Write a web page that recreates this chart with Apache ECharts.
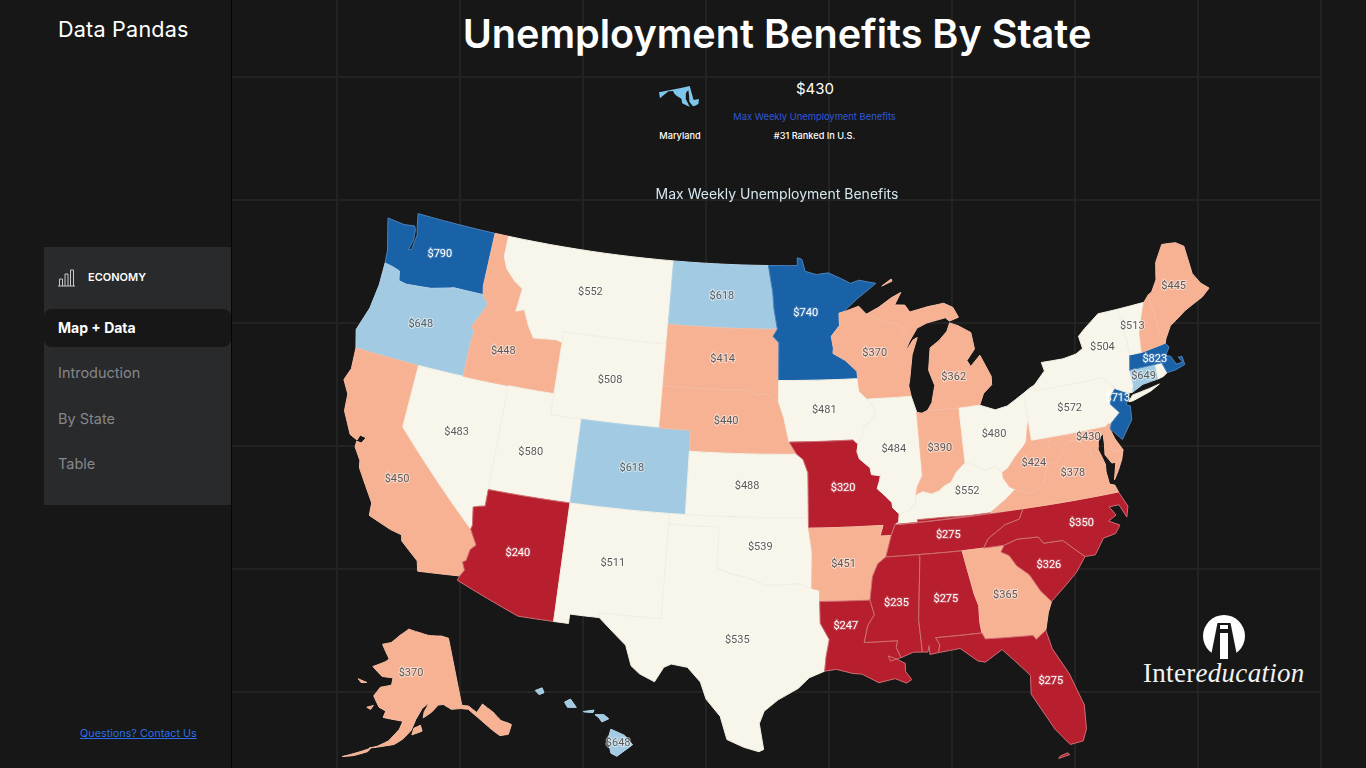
<!DOCTYPE html>
<html>
<head>
<meta charset="utf-8">
<title>Unemployment Benefits By State</title>
<script src="https://cdn.jsdelivr.net/npm/echarts@6/dist/echarts.min.js"></script>
<style>
  html, body { margin: 0; padding: 0; width: 1366px; height: 768px; overflow: hidden; background: #171717; font-family: Inter, "Open Sans", sans-serif; color: #fff; }
  .abs { position: absolute; white-space: nowrap; }
  #grid { position: absolute; left: 232px; top: 0; width: 1090px; height: 768px;
    background-image: linear-gradient(#232323 2px, transparent 2px), linear-gradient(90deg, #232323 2px, transparent 2px);
    background-size: 123px 123px; background-position: 0 76px, 104px 0; }
  #divider { position: absolute; left: 231px; top: 0; width: 1px; height: 768px; background: #050505; }
  #panel { position: absolute; left: 44px; top: 247px; width: 187px; height: 258px; background: #292a2c; }
  #pill { position: absolute; left: 44px; top: 309px; width: 187px; height: 38px; background: #171717; border-radius: 8px; }
  #chart { position: absolute; left: 0; top: 0; width: 1366px; height: 768px; }
  .nav { left: 58px; font-size: 14.5px; color: #85878a; line-height: 18px; }
  .center { transform: translateX(-50%); }
</style>
</head>
<body>
<div id="grid"></div>
<div id="divider"></div>
<div id="panel"></div>
<div id="pill"></div>
<div class="abs" style="left:58px;top:16px;font-size:21.6px;line-height:26px;letter-spacing:.2px">Data Pandas</div>
<svg class="abs" style="left:57px;top:268px" width="19" height="19" viewBox="0 0 19 19" fill="none" stroke="#c9c9c9" stroke-width="1">
  <path d="M1 18H18M2.5 18V11H5.5V18M8 18V6H11V18M13.5 18V2H16.5V18"/>
</svg>
<div class="abs" style="left:88px;top:270px;font-size:11px;line-height:14px;font-weight:600">ECONOMY</div>
<div class="abs" style="left:58px;top:319px;font-size:14px;line-height:18px;font-weight:700">Map + Data</div>
<div class="abs nav" style="top:364px">Introduction</div>
<div class="abs nav" style="top:410px">By State</div>
<div class="abs nav" style="top:455px">Table</div>
<a class="abs" href="#" style="left:80px;top:727px;font-size:10.8px;line-height:14px;color:#2b6fe8">Questions? Contact Us</a>

<div class="abs center" style="left:777px;top:9px;font-size:39.6px;line-height:50px;font-weight:600">Unemployment Benefits By State</div>
<div class="abs center" id="infoValue" style="left:815px;top:79px;font-size:15px;line-height:19px"></div>
<div class="abs center" id="infoMetric" style="left:814.5px;top:110.5px;font-size:9.4px;line-height:12px;color:#2f57d8"></div>
<div class="abs center" id="infoRank" style="left:814.5px;top:129.5px;font-size:9.2px;line-height:12px;font-weight:500"></div>
<div class="abs center" id="infoState" style="left:680px;top:129.5px;font-size:9.2px;line-height:12px;font-weight:500"></div>

<svg class="abs" style="left:1202px;top:614px" width="44" height="46" viewBox="-22 -22 44 46">
  <circle r="21" fill="#fff"/>
  <path d="M-6.5 -13L6.5 -13L13.5 22L-13.5 22Z" fill="#171717"/>
  <path d="M-4 -11H4V-7H-4ZM-4 -3H4V23H-4Z" fill="#fff"/>
</svg>
<div class="abs" style="left:1143px;top:657px;font-family:'Liberation Serif',serif;font-size:27px;line-height:32px;color:#f2f2f2;letter-spacing:.3px">Inter<i>education</i></div>

<div id="chart"></div>

<script>
// values; the three with no printed label are estimates
const stateNames = ["Washington","Oregon","California","Nevada","Idaho","Montana","Wyoming","Utah","Arizona","Colorado","New Mexico","North Dakota","South Dakota","Nebraska","Kansas","Oklahoma","Texas","Minnesota","Iowa","Missouri","Arkansas","Louisiana","Wisconsin","Illinois","Michigan","Indiana","Ohio","Kentucky","Tennessee","Mississippi","Alabama","Georgia","Florida","South Carolina","North Carolina","Virginia","West Virginia","Maryland","Delaware","Pennsylvania","New Jersey","New York","Connecticut","Rhode Island","Massachusetts","Vermont","New Hampshire","Maine","Alaska","Hawaii"];
const stateValues = [790,648,450,483,448,552,508,580,240,618,511,618,414,440,488,539,535,740,481,320,451,247,370,484,362,390,480,552,275,235,275,365,275,326,350,378,424,430,400,572,713,504,649,586,823,513,427,445,370,648];
const unlabelled = ["Delaware","Rhode Island","New Hampshire"];
const binMax = [350, 460, 600, 700];
const binColors = ["#b71f2e", "#f7b294", "#f8f6ea", "#a2cbe3", "#1a62a8"];
const binBorders = ["#cf6f73", "#f8bda2", "#f3f1e5", "#b3d4e8", "#4a83bb"];
const chartTitle = "Max Weekly Unemployment Benefits";
const selectedState = "Maryland";
const selectedRank = 31;

// shared borders, lon,lat
const borders = {
  wa_or: "-124.0,46.27 -123.4,46.2 -122.9,46.1 -122.75,45.65 -122.2,45.58 -121.2,45.65 -120.5,45.7 -119.3,45.93 -118.98,46.0 -116.92,46.0",
  or_id: "-116.92,46.0 -116.46,45.6 -116.85,44.95 -117.22,44.38 -116.95,44.2 -117.03,43.8 -117.03,42.0",
  id_mt: "-116.05,49.0 -116.05,48.0 -115.7,47.45 -114.95,46.93 -114.35,46.65 -114.5,45.55 -113.95,45.7 -113.45,44.95 -113.0,44.45 -111.5,44.55 -111.05,44.48",
  ca_nv: "-120.0,42.0 -120.0,39.0 -114.63,35.0",
  ca_az: "-114.63,35.0 -114.14,34.3 -114.43,34.05 -114.53,33.5 -114.72,33.4 -114.52,33.03 -114.72,32.72",
  mn_wi: "-92.01,46.71 -92.29,46.66 -92.29,46.07 -92.88,45.57 -92.76,45.0 -92.8,44.75 -92.0,44.4 -91.25,43.85 -91.22,43.5",
  miss_wi: "-91.22,43.5 -91.15,42.9 -90.64,42.51",
  miss_il: "-90.64,42.51 -90.15,41.9 -90.34,41.55 -91.05,41.2 -91.1,40.75 -91.42,40.38",
  miss_mo: "-91.42,40.38 -91.5,40.05 -91.37,39.7 -90.73,39.25 -90.67,38.93 -90.12,38.85 -90.2,38.6 -90.37,38.25 -89.9,37.88 -89.52,37.55 -89.5,37.3 -89.13,36.98",
  mo_ky: "-89.13,36.98 -89.2,36.6 -89.42,36.5",
  mo_tn: "-89.42,36.5 -89.7,36.0",
  tn_ar: "-89.7,36.0 -90.1,35.0",
  ar_ms: "-90.1,35.0 -90.6,34.7 -90.95,34.1 -91.16,33.0",
  la_ms: "-91.16,33.0 -90.95,32.3 -91.35,31.8 -91.6,31.0 -89.73,31.0 -89.83,30.67 -89.6,30.18",
  il_ky: "-89.13,36.98 -88.5,37.1 -88.07,37.5 -88.03,37.8",
  wabash: "-88.03,37.8 -87.9,38.2 -87.53,38.7 -87.53,39.35 -87.53,41.71",
  in_ky: "-88.03,37.8 -87.6,37.95 -87.1,37.8 -86.6,37.9 -86.3,38.1 -85.8,38.27 -85.43,38.7 -84.82,39.1",
  oh_ky: "-84.82,39.1 -84.3,38.95 -83.65,38.63 -83.0,38.73 -82.6,38.42",
  oh_wv: "-82.6,38.42 -82.2,38.6 -81.75,39.0 -81.0,39.55 -80.85,39.72 -80.63,40.4 -80.52,40.64",
  ky_wv: "-82.6,38.42 -82.6,38.15 -82.3,37.7 -81.97,37.54",
  ky_va: "-81.97,37.54 -82.7,37.1 -83.68,36.6",
  ky_tn: "-83.68,36.6 -85.0,36.6 -86.5,36.65 -88.07,36.65 -88.07,36.5 -89.42,36.5",
  va_wv: "-81.97,37.54 -81.2,37.25 -80.3,37.5 -79.65,38.58 -79.3,38.42 -78.87,38.77 -78.35,39.4 -77.72,39.32",
  md_wv: "-77.72,39.32 -77.83,39.6 -78.35,39.65 -78.9,39.45 -79.48,39.2 -79.48,39.72",
  nc_sc: "-83.11,35.0 -82.3,35.2 -81.05,35.15 -80.8,34.82 -79.67,34.8 -78.55,33.86",
  ga_sc: "-83.11,35.0 -83.35,34.7 -82.9,34.48 -82.55,33.95 -81.9,33.45 -81.4,32.6 -80.88,32.03",
  tn_nc: "-84.32,34.99 -84.0,35.4 -82.9,35.95 -82.0,36.12 -81.68,36.59",
  ga_al: "-85.6,34.98 -85.18,32.87 -85.0,32.3 -85.05,31.55 -85.0,31.0",
  tx_ok: "-100.0,36.5 -100.0,34.56 -99.2,34.3 -98.1,34.13 -97.2,33.8 -96.5,33.8 -95.3,33.87 -94.48,33.64",
  tx_la: "-94.04,33.02 -94.04,31.99 -93.55,31.2 -93.75,30.4 -93.85,29.7",
  ne_ia: "-96.45,42.49 -96.1,41.7 -95.9,41.0 -95.77,40.58 -95.3,40.0",
  sd_ne: "-104.05,43.0 -98.5,43.0 -97.9,42.8 -97.2,42.85 -96.45,42.49",
  nd_mn: "-97.23,49.0 -96.9,47.7 -96.8,46.9 -96.56,45.94",
  sd_mn: "-96.56,45.94 -96.85,45.6 -96.45,45.3 -96.45,43.5",
  mi_wi: "-90.4,46.55 -89.1,46.13 -88.1,45.9 -87.8,45.35 -87.6,45.1",
  pa_nj: "-74.7,41.36 -75.13,40.98 -75.2,40.68 -74.75,40.2 -75.4,39.8"
};

// state outlines, "@name" pulls in a shared border and "@-name" the same border backwards
const stateRings = {
  "Washington": ["@wa_or -117.04,46.42 -117.04,49.0 -122.76,49.0 -122.55,48.35 -122.4,48.0 -122.45,47.7 -122.5,47.25 -122.7,47.2 -122.55,47.7 -122.62,48.2 -122.75,48.38 -123.5,48.3 -124.73,48.38 -124.4,47.6 -124.1,46.9"],
  "Oregon": ["-124.21,42.0 -124.55,42.84 -124.1,44.0 -123.95,45.2 @wa_or @or_id -120.0,42.0"],
  "California": ["@ca_nv @ca_az -117.12,32.53 -117.28,33.0 -118.4,33.75 -118.5,34.03 -119.2,34.15 -120.6,34.55 -120.65,35.15 -121.9,36.6 -122.0,36.95 -122.5,37.5 -122.5,37.78 -122.2,37.75 -122.0,38.05 -122.4,38.1 -122.5,37.83 -123.0,38.0 -123.75,39.0 -123.85,39.8 -124.35,40.4 -124.1,41.0 -124.21,42.0"],
  "Nevada": ["-120.0,42.0 -117.03,42.0 -114.04,42.0 -114.05,37.0 -114.05,36.2 -114.35,36.15 -114.74,36.05 -114.57,35.2 -114.63,35.0 -120.0,39.0"],
  "Idaho": ["-117.04,49.0 -116.05,49.0 @id_mt -111.05,42.0 -114.04,42.0 -117.03,42.0 @-or_id -117.04,46.42"],
  "Montana": ["@id_mt -111.05,45.0 -104.05,45.0 -104.05,45.94 -104.05,49.0"],
  "Wyoming": ["-111.05,45.0 -104.05,45.0 -104.05,43.0 -104.05,41.0 -109.05,41.0 -111.05,41.0 -111.05,42.0 -111.05,44.48"],
  "Utah": ["-114.04,42.0 -111.05,42.0 -111.05,41.0 -109.05,41.0 -109.05,37.0 -114.05,37.0"],
  "Arizona": ["-114.05,37.0 -109.05,37.0 -109.05,31.33 -111.07,31.33 -114.81,32.5 -114.72,32.72 @-ca_az -114.57,35.2 -114.74,36.05 -114.35,36.15 -114.05,36.2"],
  "Colorado": ["-109.05,41.0 -104.05,41.0 -102.05,41.0 -102.05,40.0 -102.05,37.0 -103.0,37.0 -109.05,37.0"],
  "New Mexico": ["-109.05,37.0 -103.0,37.0 -103.0,36.5 -103.04,32.0 -106.62,32.0 -106.53,31.78 -108.21,31.78 -108.21,31.33 -109.05,31.33"],
  "North Dakota": ["-104.05,49.0 @nd_mn -104.05,45.94"],
  "South Dakota": ["-104.05,45.94 @sd_mn -96.45,42.49 @-sd_ne"],
  "Nebraska": ["@sd_ne @ne_ia -102.05,40.0 -102.05,41.0 -104.05,41.0"],
  "Kansas": ["-102.05,40.0 -95.3,40.0 -94.9,39.75 -94.61,39.11 -94.62,37.0 -102.05,37.0"],
  "Oklahoma": ["-103.0,37.0 -102.05,37.0 -94.62,37.0 -94.62,36.5 -94.43,35.4 @-tx_ok -103.0,36.5"],
  "Texas": ["-103.0,36.5 @tx_ok -94.04,33.55 @tx_la -94.7,29.4 -95.3,28.9 -96.4,28.35 -97.15,27.8 -97.4,27.2 -97.15,25.96 -97.4,25.85 -98.2,26.05 -99.1,26.4 -99.5,27.5 -100.3,28.3 -100.65,29.1 -101.4,29.77 -102.3,29.88 -102.7,29.7 -103.15,28.98 -104.0,29.3 -104.5,29.65 -104.9,30.6 -106.53,31.78 -106.62,32.0 -103.04,32.0"],
  "Minnesota": ["@nd_mn @sd_mn -91.22,43.5 @-mn_wi -91.0,47.3 -89.6,48.0 -90.8,48.2 -91.4,48.07 -92.0,48.3 -92.95,48.62 -93.8,48.55 -94.6,48.72 -94.82,49.3 -95.15,49.38 -95.15,49.0"],
  "Iowa": ["-96.45,43.5 -91.22,43.5 @miss_wi @miss_il -91.73,40.61 -95.77,40.58 -95.9,41.0 -96.1,41.7 -96.45,42.49"],
  "Missouri": ["-91.42,40.38 @miss_mo @mo_ky @mo_tn -90.37,36.0 -90.15,36.5 -94.62,36.5 -94.62,37.0 -94.61,39.11 -94.9,39.75 -95.3,40.0 -95.77,40.58 -91.73,40.61"],
  "Arkansas": ["-94.62,36.5 -90.15,36.5 -90.37,36.0 @tn_ar @ar_ms -94.04,33.02 -94.04,33.55 -94.48,33.64 -94.43,35.4"],
  "Louisiana": ["@la_ms -90.2,30.05 -90.3,30.3 -89.9,30.15 -89.4,29.9 -89.4,29.5 -89.1,29.1 -89.4,28.95 -90.0,29.2 -90.9,29.05 -91.8,29.5 -92.3,29.55 -93.2,29.77 -93.85,29.7 -93.75,30.4 -93.55,31.2 -94.04,31.99 -94.04,33.02"],
  "Wisconsin": ["@mn_wi @miss_wi -87.8,42.49 -87.9,43.0 -87.8,43.3 -87.5,44.45 -87.05,45.25 -87.35,45.15 -88.0,44.55 -87.6,45.1 -87.8,45.35 -88.1,45.9 -89.1,46.13 -90.4,46.55 -90.9,46.95"],
  "Illinois": ["-87.53,41.71 -87.8,42.49 -90.64,42.51 @miss_il @miss_mo @il_ky -87.9,38.2 -87.53,38.7 -87.53,39.35"],
  "Michigan": ["-86.82,41.76 -86.5,42.1 -86.2,42.9 -86.5,43.65 -86.25,44.7 -85.6,45.0 -85.0,45.4 -84.75,45.78 -84.2,45.6 -83.4,45.2 -83.3,44.4 -83.9,43.9 -83.7,43.6 -83.0,44.07 -82.45,43.0 -82.5,42.6 -83.1,42.25 -83.45,41.72 -84.8,41.7",
    "@mi_wi -87.0,45.7 -86.3,45.9 -85.0,46.05 -84.75,45.87 -84.1,46.0 -84.4,46.5 -85.0,46.75 -86.1,46.67 -87.4,46.5 -87.7,46.85 -88.4,46.9 -87.9,47.47 -88.6,47.25 -89.5,46.85",
    "-89.2,47.85 -88.5,48.15 -88.45,48.05"],
  "Indiana": ["-84.82,39.1 -84.8,41.7 -86.82,41.76 -87.2,41.65 -87.53,41.71 -87.53,39.35 -87.53,38.7 -87.9,38.2 @in_ky"],
  "Ohio": ["@oh_ky @oh_wv -80.52,41.98 -81.7,41.5 -82.5,41.4 -83.45,41.72 -84.8,41.7"],
  "Kentucky": ["@il_ky @in_ky @oh_ky @ky_wv @ky_va @ky_tn -89.2,36.6"],
  "Tennessee": ["-90.1,35.0 -88.2,35.0 -85.6,34.98 -84.32,34.99 @tn_nc @-ky_tn @mo_tn"],
  "Mississippi": ["@ar_ms @la_ms -88.9,30.4 -88.4,30.37 -88.47,31.9 -88.1,34.9 -88.2,35.0"],
  "Alabama": ["-88.2,35.0 @ga_al -87.6,31.0 -87.4,30.65 -87.52,30.28 -88.0,30.23 -88.0,30.65 -88.1,30.35 -88.4,30.37 -88.47,31.9 -88.1,34.9"],
  "Georgia": ["-85.6,34.98 -84.32,34.99 @ga_sc -81.15,31.55 -81.45,30.72 -82.05,30.36 -82.2,30.57 -84.86,30.7 -85.0,31.0 -85.05,31.55 -85.0,32.3 -85.18,32.87"],
  "Florida": ["-87.6,31.0 -85.0,31.0 -84.86,30.7 -82.2,30.57 -82.05,30.36 -81.45,30.72 -81.25,29.8 -80.55,28.5 -80.03,26.9 -80.13,25.75 -80.4,25.2 -81.1,25.13 -81.75,25.95 -82.15,26.7 -82.75,27.8 -82.65,28.7 -83.4,29.5 -84.0,30.1 -85.0,29.6 -85.4,29.7 -86.3,30.38 -87.52,30.28 -87.4,30.65",
    "-81.8,24.55 -81.2,24.65 -81.3,24.75 -81.7,24.65"],
  "South Carolina": ["@nc_sc -79.2,33.2 -79.9,32.7 -80.88,32.03 @-ga_sc"],
  "North Carolina": ["-84.32,34.99 -83.11,35.0 @nc_sc -77.95,33.85 -77.3,34.55 -76.55,34.65 -76.2,35.0 -76.8,35.3 -76.3,35.5 -76.6,35.95 -76.0,35.95 -75.7,35.3 -75.5,35.8 -75.87,36.55 -81.68,36.59 @-tn_nc"],
  "Virginia": ["-83.68,36.6 -81.68,36.59 -75.87,36.55 -76.0,36.9 -76.3,37.0 -76.35,37.6 -76.3,37.95 -77.05,38.4 -77.04,38.8 -77.5,39.1 -77.72,39.32 @-va_wv @ky_va",
    "-75.95,37.15 -75.65,37.95 -75.25,38.03 -75.6,37.55"],
  "West Virginia": ["@oh_wv -80.52,39.72 -79.48,39.72 @-md_wv @-va_wv @-ky_wv"],
  "Maryland": ["-79.48,39.72 -75.79,39.72 -75.69,38.46 -75.05,38.45 -75.25,38.03 -75.65,37.95 -75.9,37.95 -76.2,38.4 -76.1,38.9 -76.05,39.4 -76.4,39.2 -76.55,38.7 -76.4,38.3 -76.3,37.95 -77.05,38.4 -77.04,38.8 -77.5,39.1 -77.72,39.32 @md_wv"],
  "Delaware": ["-75.79,39.72 -75.6,39.84 -75.4,39.8 -75.55,39.5 -75.4,39.05 -75.05,38.45 -75.69,38.46"],
  "Pennsylvania": ["-80.52,41.98 -80.08,42.17 -79.76,42.27 -79.76,42.0 -75.35,42.0 -75.05,41.75 @pa_nj -75.6,39.84 -75.79,39.72 -80.52,39.72"],
  "New Jersey": ["-74.7,41.36 -73.9,41.0 -74.02,40.7 -74.25,40.5 -74.0,40.4 -74.1,39.75 -74.95,38.93 -75.4,39.4 -75.55,39.55 -75.4,39.8 @-pa_nj"],
  "New York": ["-79.76,42.27 -79.76,42.0 -75.35,42.0 -75.05,41.75 -74.7,41.36 -73.9,41.0 -73.65,41.0 -73.5,41.3 -73.5,42.05 -73.27,42.75 -73.24,43.55 -73.35,45.0 -74.7,45.0 -75.8,44.45 -76.3,44.15 -76.2,43.55 -76.7,43.35 -77.6,43.25 -79.05,43.27 -78.95,42.85",
    "-74.03,40.6 -73.75,40.6 -72.5,40.85 -71.87,41.07 -72.6,40.98 -73.7,40.87"],
  "Connecticut": ["-73.65,41.0 -72.9,41.25 -71.86,41.32 -71.8,42.02 -73.5,42.05 -73.5,41.3"],
  "Rhode Island": ["-71.86,41.32 -71.8,42.02 -71.38,42.02 -71.2,41.5 -71.5,41.37"],
  "Massachusetts": ["-73.5,42.05 -71.8,42.02 -71.38,42.02 -71.2,41.5 -70.65,41.52 -69.97,41.65 -70.0,42.05 -70.25,42.07 -70.05,41.78 -70.5,41.78 -70.7,42.2 -71.0,42.3 -70.65,42.65 -70.82,42.87 -72.46,42.73 -73.27,42.75"],
  "Vermont": ["-73.27,42.75 -72.46,42.73 -72.3,43.6 -72.05,44.1 -71.5,45.01 -73.35,45.0 -73.24,43.55"],
  "New Hampshire": ["-72.46,42.73 -70.82,42.87 -70.7,43.07 -70.98,43.35 -71.08,45.3 -71.5,45.01 -72.05,44.1 -72.3,43.6"],
  "Maine": ["-70.7,43.07 -70.2,43.6 -69.7,43.8 -69.0,44.1 -68.5,44.25 -67.6,44.5 -67.0,44.8 -67.45,45.15 -67.8,45.7 -67.8,47.07 -68.3,47.35 -69.0,47.43 -69.25,47.45 -70.0,46.7 -70.3,45.9 -70.8,45.4 -71.08,45.3 -70.98,43.35"],
  "Alaska": ["-130.0,55.9 -130.0,56.0 -132.1,56.9 -133.4,58.4 -135.4,59.8 -137.5,58.9 -139.2,60.0 -141.0,60.3 -141.0,69.65 -143.5,70.1 -148.5,70.4 -152.0,70.85 -156.6,71.35 -160.0,70.4 -163.0,69.3 -166.2,68.85 -163.0,67.0 -164.0,66.6 -168.0,65.6 -164.5,64.5 -161.0,64.5 -161.2,63.5 -164.5,63.0 -166.0,61.7 -164.0,60.3 -162.0,59.9 -162.5,59.0 -158.5,58.8 -157.2,58.7 -158.0,57.6 -160.5,55.9 -163.0,55.0 -164.8,54.6 -161.0,55.2 -159.0,55.5 -157.0,56.3 -155.0,57.5 -153.8,59.0 -152.0,60.5 -150.0,61.2 -151.5,60.0 -151.8,59.2 -149.5,59.9 -147.5,60.8 -146.0,60.8 -144.0,60.0 -141.5,59.9 -139.5,59.6 -137.5,58.2 -136.0,57.0 -134.8,56.0 -133.5,55.0 -131.5,54.8",
    "-154.8,56.9 -152.2,57.4 -152.6,58.2 -154.3,57.8",
    "-167.3,60.0 -165.6,60.4 -166.2,59.8",
    "-171.6,63.5 -168.8,63.3 -170.5,63.1",
    "-164.5,54.6 -168.0,53.5 -170.5,52.7 -168.0,53.2 -165.0,54.1"],
  "Hawaii": ["-155.9,20.25 -155.2,19.95 -154.8,19.5 -155.6,18.95 -155.9,19.1 -156.05,19.75",
    "-156.7,20.95 -156.25,20.95 -156.0,20.75 -156.35,20.6 -156.5,20.8",
    "-157.3,21.1 -156.75,21.17 -156.8,21.05 -157.25,21.08",
    "-158.25,21.55 -157.95,21.7 -157.65,21.3 -158.1,21.3",
    "-159.75,22.1 -159.4,22.23 -159.3,22.0 -159.55,21.9"]
};

// where a label sits when the shape's own centre is off, lon,lat
const labelAnchors = {
  "Michigan": [-84.9, 43.2], "Florida": [-81.6, 28.3], "Louisiana": [-92.6, 31.8],
  "North Carolina": [-78.4, 35.45], "Virginia": [-78.35, 37.85], "California": [-119.55, 36.55],
  "Idaho": [-114.8, 43.55], "New York": [-74.9, 43.4], "New Jersey": [-74.65, 40.9],
  "Maryland": [-77.0, 39.35], "Kentucky": [-84.9, 37.75], "Texas": [-98.7, 31.15],
  "Alaska": [-155.3, 65.3], "Utah": [-111.9, 39.1], "Arkansas": [-92.6, 34.75],
  "South Carolina": [-80.7, 33.75], "Minnesota": [-94.6, 46.7]
};

function expandRing(text) {
  const pts = [];
  text.split(" ").forEach((tok) => {
    if (tok[0] === "@") {
      const back = tok[1] === "-";
      const part = borders[tok.slice(back ? 2 : 1)].split(" ");
      (back ? part.reverse() : part).forEach((p) => pts.push(p.split(",").map(Number)));
    } else {
      pts.push(tok.split(",").map(Number));
    }
  });
  // long straight borders follow parallels, so add points along them before projecting
  const dense = [];
  pts.forEach((p, i) => {
    const q = pts[(i + 1) % pts.length];
    const n = Math.ceil(Math.abs(q[0] - p[0]));
    for (let k = 0; k < Math.max(n, 1); k++) {
      dense.push([p[0] + ((q[0] - p[0]) * k) / Math.max(n, 1), p[1] + ((q[1] - p[1]) * k) / Math.max(n, 1)]);
    }
  });
  dense.push(dense[0]);
  return dense;
}

function makeFeature(name) {
  const properties = { name: name };
  if (labelAnchors[name]) properties.cp = labelAnchors[name];
  return {
    type: "Feature",
    properties: properties,
    geometry: { type: "MultiPolygon", coordinates: stateRings[name].map((r) => [expandRing(r)]) },
  };
}

// the usual composite US projection: conic for the lower 48, insets for Alaska and Hawaii
function conic(rot, center, p0, p1, k, tx, ty) {
  const rad = Math.PI / 180;
  const s0 = Math.sin(p0 * rad), n = (s0 + Math.sin(p1 * rad)) / 2;
  const c = 1 + s0 * (2 * n - s0), r0 = Math.sqrt(c) / n;
  const raw = (x, y) => {
    const r = Math.sqrt(c - 2 * n * Math.sin(y * rad)) / n;
    return [r * Math.sin(x * n * rad), r0 - r * Math.cos(x * n * rad)];
  };
  const o = raw(center[0], center[1]);
  return {
    project: (lon, lat) => {
      const a = raw(lon + rot, lat);
      return [tx + k * (a[0] - o[0]), ty - k * (a[1] - o[1])];
    },
    invert: (x, y) => {
      const a = (x - tx) / k + o[0], b = r0 - (o[1] - (y - ty) / k);
      const r = Math.sqrt(a * a + b * b);
      return [Math.atan2(a, b) / rad / n - rot, Math.asin((c - r * r * n * n) / (2 * n)) / rad];
    },
  };
}
const lower48 = conic(96, [-0.6, 38.7], 29.5, 45.5, 1200, 775.8, 481.8);
const alaska = conic(154, [-2, 58.5], 55, 65, 420, 407.4, 723);
const hawaii = conic(157, [-3, 19.9], 8, 18, 1200, 529.8, 736.2);
const usProjection = {
  project: (p) => {
    if (p[1] >= 51 && p[0] < -129.5) return alaska.project(p[0], p[1]);
    if (p[1] < 23 && p[0] < -150) return hawaii.project(p[0], p[1]);
    return lower48.project(p[0], p[1]);
  },
  unproject: (p) => lower48.invert(p[0], p[1]),
};

function boxOf(features) {
  let x0 = Infinity, y0 = Infinity, x1 = -Infinity, y1 = -Infinity;
  features.forEach((f) => f.geometry.coordinates.forEach((poly) => poly[0].forEach((pt) => {
    const q = usProjection.project(pt);
    x0 = Math.min(x0, q[0]); x1 = Math.max(x1, q[0]);
    y0 = Math.min(y0, q[1]); y1 = Math.max(y1, q[1]);
  })));
  return { left: x0, top: y0, width: x1 - x0, height: y1 - y0 };
}

const features = stateNames.map(makeFeature);
echarts.registerMap("usa", { type: "FeatureCollection", features: features });
echarts.registerMap("selected", { type: "FeatureCollection", features: [makeFeature(selectedState)] });

const selectedValue = stateValues[stateNames.indexOf(selectedState)];
document.getElementById("infoValue").textContent = "$" + selectedValue;
document.getElementById("infoMetric").textContent = chartTitle;
document.getElementById("infoRank").textContent = "#" + selectedRank + " Ranked In U.S.";
document.getElementById("infoState").textContent = selectedState;

function binOf(v) {
  const i = binMax.findIndex((m) => v <= m);
  return i < 0 ? binMax.length : i;
}

const mapData = stateNames.map((name, i) => {
  const v = stateValues[i];
  const bin = binOf(v);
  const dark = bin === 0 || bin === 4;
  return {
    name: name,
    value: v,
    itemStyle: { borderColor: binBorders[bin] },
    label: {
      show: !unlabelled.includes(name),
      color: dark ? "#ffffff" : "#5a5a5a",
      textBorderColor: dark ? "rgba(255,255,255,0.15)" : "rgba(255,255,255,0.5)",
      textBorderWidth: 2,
    },
  };
});

const chart = echarts.init(document.getElementById("chart"));
chart.setOption({
  animation: false,
  backgroundColor: "transparent",
  title: {
    text: chartTitle,
    left: 772,
    top: 182,
    textAlign: "center",
    textStyle: { color: "#d6e8ef", fontSize: 14, fontWeight: 400, fontFamily: "Inter", lineHeight: 16 },
  },
  visualMap: {
    show: false,
    type: "piecewise",
    seriesIndex: 0,
    pieces: [
      { lte: binMax[0], color: binColors[0] },
      { gt: binMax[0], lte: binMax[1], color: binColors[1] },
      { gt: binMax[1], lte: binMax[2], color: binColors[2] },
      { gt: binMax[2], lte: binMax[3], color: binColors[3] },
      { gt: binMax[3], color: binColors[4] },
    ],
  },
  series: [
    Object.assign({
      type: "map",
      map: "usa",
      projection: usProjection,
      aspectScale: 1,
      roam: false,
      silent: true,
      itemStyle: { borderWidth: 1 },
      label: {
        show: true,
        fontFamily: "Roboto",
        fontSize: 11,
        formatter: (p) => "$" + p.value,
      },
      data: mapData,
    }, boxOf(features)),
    {
      type: "map",
      map: "selected",
      projection: usProjection,
      aspectScale: 1,
      roam: false,
      silent: true,
      left: 659,
      top: 86,
      width: 40,
      height: 21,
      itemStyle: { areaColor: "#7fc6ec", borderWidth: 0 },
      label: { show: false },
      data: [{ name: selectedState, value: selectedValue }],
    },
  ],
});
</script>
</body>
</html>
